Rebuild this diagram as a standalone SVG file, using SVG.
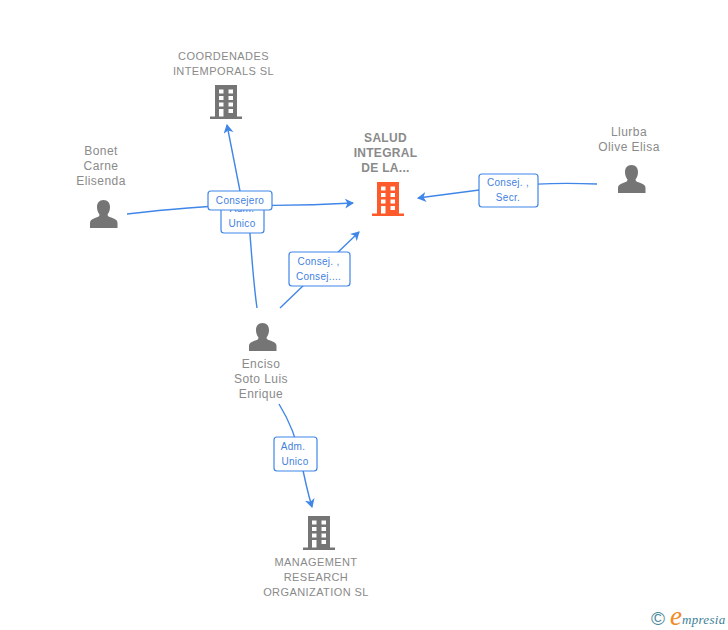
<svg xmlns="http://www.w3.org/2000/svg" width="728" height="630" viewBox="0 0 728 630">
<style>
.n{font-family:"Liberation Sans",Arial,sans-serif;font-size:12px;fill:#8a8a8a;text-anchor:middle;letter-spacing:.45px}
.u{font-size:11px;letter-spacing:.42px}
.b{font-weight:bold;font-size:12px;letter-spacing:.3px}
.l{font-family:"Liberation Sans",Arial,sans-serif;font-size:10px;fill:#3f7fe0;text-anchor:middle;letter-spacing:.3px}
.c{fill:none;stroke:#3f86e8;stroke-width:1.4}
.r{fill:#fff;stroke:#3f86e8;stroke-width:1.2}
</style>
<defs>
<marker id="a" markerUnits="userSpaceOnUse" markerWidth="12" markerHeight="12" refX="8" refY="5" orient="auto"><path d="M0 0L9 5L0 10L2.500 5Z" fill="#3f86e8"/></marker>
<path id="bld" fill-rule="evenodd" d="M5 0H27V31.500H32V34H0V31.500H5ZM9 4.500V8.500H13.500V4.500ZM18.500 4.500V8.500H23V4.500ZM9 11V15H13.500V11ZM18.500 11V15H23V11ZM9 17.500V21.500H13.500V17.500ZM18.500 17.500V21.500H23V17.500ZM9 24V31.500H13.500V24ZM18.500 24V28H23V24Z"/>
<path id="per" d="M13.500 0C17.800 0 20 3 20 7C20 10 19 12.500 17.500 14.500C17.500 16.500 19.500 17 22.500 18C25.800 19.200 27.500 20.500 27.500 23V28H0V23C0 20.500 1.700 19.200 5 18C8 17 9.500 16.500 9.500 14.500C8 12.500 7 10 7 7C7 3 9.200 0 13.500 0Z"/>
</defs>
<g id="connectors">
<path class="c" d="M257 308C253 280 251 245 249 222"/>
<path class="c" d="M240 191L227 125" marker-end="url(#a)"/>
<path class="c" d="M127 214C170 209 205 206 240 205C280 206 320 205 353 203" marker-end="url(#a)"/>
<path class="c" d="M280 308L359 232" marker-end="url(#a)"/>
<path class="c" d="M597 184C570 183 540 183 510 186L418 198" marker-end="url(#a)"/>
<path class="c" d="M279 404C290 422 297 440 301 460C304 476 307 490 312 507" marker-end="url(#a)"/>
</g>
<g id="edge-adm1"><rect class="r" x="221" y="200" width="43" height="33" rx="3"/><text class="l" x="242" y="212">Adm.</text><text class="l" x="242" y="227">Unico</text></g>
<g id="edge-consejero"><rect class="r" x="208" y="191" width="64" height="19" rx="3"/><text class="l" x="240" y="204">Consejero</text></g>
<g id="edge-consej"><rect class="r" x="289" y="252" width="61" height="34" rx="3"/><text class="l" x="318.500" y="265">Consej. ,</text><text class="l" x="318.500" y="280">Consej....</text></g>
<g id="edge-secr"><rect class="r" x="479" y="174" width="59" height="33" rx="3"/><text class="l" x="508" y="186">Consej. ,</text><text class="l" x="508" y="201">Secr.</text></g>
<g id="edge-adm2"><rect class="r" x="274" y="437" width="43" height="34" rx="3"/><text class="l" x="293" y="450">Adm.</text><text class="l" x="295" y="465">Unico</text></g>
<g id="node-coordenades"><text class="n u" x="223.500" y="60">COORDENADES</text><text class="n u" x="223.500" y="75">INTEMPORALS SL</text><use href="#bld" x="210" y="85" fill="#757575"/></g>
<g id="node-salud"><text class="n b" x="385.500" y="142">SALUD</text><text class="n b" x="385.500" y="157">INTEGRAL</text><text class="n b" x="385.500" y="172">DE LA...</text><use href="#bld" x="372" y="182" fill="#ff5a2b"/></g>
<g id="node-bonet"><text class="n" x="101" y="155">Bonet</text><text class="n" x="101" y="170">Carne</text><text class="n" x="101" y="185">Elisenda</text><use href="#per" x="90" y="200" fill="#757575"/></g>
<g id="node-llurba"><text class="n" x="629" y="136">Llurba</text><text class="n" x="629" y="151">Olive Elisa</text><use href="#per" x="618" y="165" fill="#757575"/></g>
<g id="node-enciso"><text class="n" x="261" y="368">Enciso</text><text class="n" x="261" y="383">Soto Luis</text><text class="n" x="261" y="398">Enrique</text><use href="#per" x="249" y="323" fill="#757575"/></g>
<g id="node-management"><text class="n u" x="316" y="566">MANAGEMENT</text><text class="n u" x="316" y="581">RESEARCH</text><text class="n u" x="316" y="596">ORGANIZATION SL</text><use href="#bld" x="303" y="516" fill="#757575"/></g>
<g id="logo"><text x="658" y="625" font-family="'Liberation Sans',sans-serif" font-size="19" fill="#4a8a9c" text-anchor="middle">©</text><text x="670" y="625" font-family="'Liberation Serif',serif" font-style="italic" font-size="27" fill="#f08a24">e</text><text x="682" y="624" font-family="'Liberation Serif',serif" font-style="italic" font-size="13" fill="#3d7f96" letter-spacing=".3">mpresia</text></g>
</svg>
